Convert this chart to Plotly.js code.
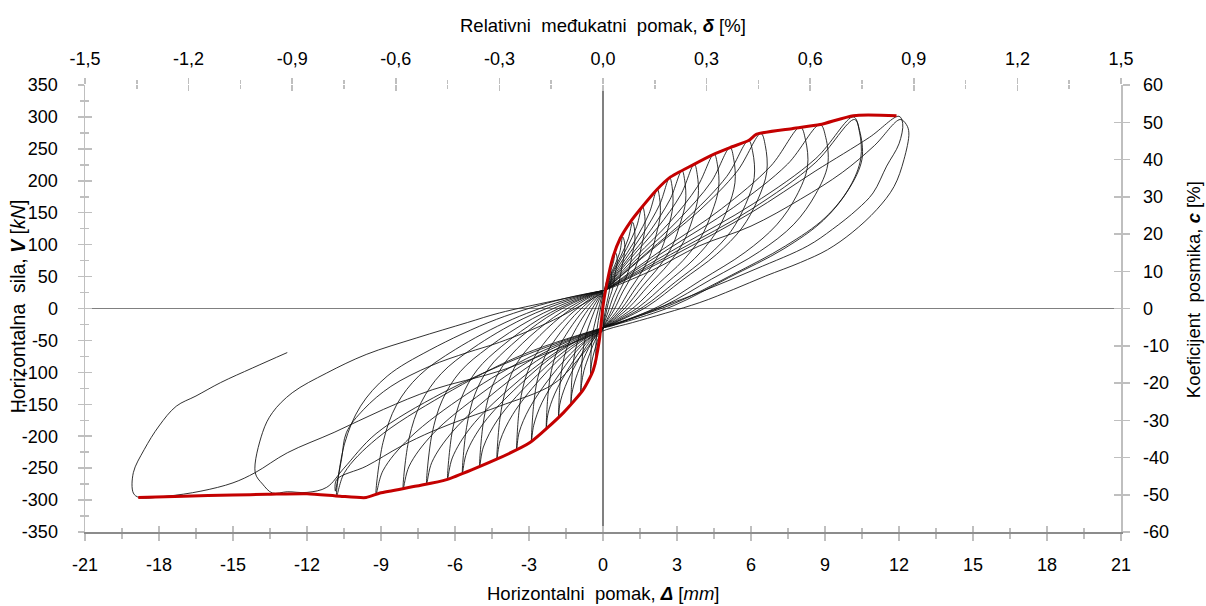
<!DOCTYPE html>
<html>
<head>
<meta charset="utf-8">
<script src="https://cdn.plot.ly/plotly-3.0.1.min.js"></script>
<style>html,body{margin:0;padding:0;background:#fff;}#chart{width:1206px;height:606px;}</style>
</head>
<body>
<div id="chart"></div>
<script>
// Tick labels
const xTickVals = [-21,-18,-15,-12,-9,-6,-3,0,3,6,9,12,15,18,21];
const xTickText = ['-21','-18','-15','-12','-9','-6','-3','0','3','6','9','12','15','18','21'];
const dTickVals = [-1.5,-1.2,-0.9,-0.6,-0.3,0,0.3,0.6,0.9,1.2,1.5];
const dTickText = ['-1,5','-1,2','-0,9','-0,6','-0,3','0,0','0,3','0,6','0,9','1,2','1,5'];
const yTickVals = [-350,-300,-250,-200,-150,-100,-50,0,50,100,150,200,250,300,350];
const yTickText = ['-350','-300','-250','-200','-150','-100','-50','0','50','100','150','200','250','300','350'];
const cTickVals = [-60,-50,-40,-30,-20,-10,0,10,20,30,40,50,60];
const cTickText = ['-60','-50','-40','-30','-20','-10','0','10','20','30','40','50','60'];

// Hysteresis cycles (displacement mm, force kN)
const c00x = [0.03,0.09,0.18,0.26,0.3,0.33,0.34,0.29,0.26,0.21,0.15,0.08,0.03,0.01,-0.09,-0.18,-0.26,-0.29,-0.3,-0.29,-0.27,-0.24,-0.19,-0.12,-0.05,0];
const c00y = [20,30,40,52,62,57,48,38,28,18,8,-6,-20,-28,-38,-50,-67,-79,-88,-63,-46,-32,-19,-4,12,24];
const c01x = [0.05,0.15,0.3,0.43,0.5,0.56,0.57,0.49,0.44,0.36,0.25,0.14,0.04,0.02,-0.15,-0.3,-0.43,-0.49,-0.5,-0.49,-0.46,-0.41,-0.33,-0.2,-0.08,0];
const c01y = [28,43,58,74,88,82,69,55,40,27,14,-4,-22,-30,-42,-60,-79,-94,-104,-75,-54,-37,-23,-3,15,28];
const c02x = [0.05,0.24,0.48,0.68,0.8,0.87,0.87,0.78,0.7,0.58,0.4,0.22,0.06,0.02,-0.27,-0.54,-0.77,-0.87,-0.9,-0.87,-0.82,-0.73,-0.59,-0.36,-0.14,0];
const c02y = [28,48,68,88,112,104,86,68,50,33,17,-4,-22,-30,-46,-71,-97,-118,-132,-95,-69,-48,-29,-5,15,28];
const c03x = [0.05,0.36,0.72,1.02,1.2,1.27,1.29,1.18,1.06,0.86,0.6,0.34,0.1,0.02,-0.39,-0.78,-1.1,-1.26,-1.3,-1.26,-1.18,-1.05,-0.85,-0.52,-0.2,0];
const c03y = [28,55,82,109,135,126,105,84,62,42,22,-3,-22,-30,-49,-78,-109,-133,-150,-108,-78,-54,-33,-6,15,28];
const c04x = [0.05,0.48,0.96,1.36,1.6,1.68,1.7,1.57,1.41,1.15,0.8,0.45,0.13,0.02,-0.54,-1.08,-1.53,-1.75,-1.8,-1.75,-1.64,-1.46,-1.17,-0.72,-0.27,0];
const c04y = [28,61,94,128,160,149,125,99,74,50,26,-2,-22,-30,-52,-86,-122,-150,-170,-122,-88,-61,-37,-8,15,28];
const c05x = [0.05,0.66,1.32,1.87,2.2,2.29,2.32,2.16,1.94,1.58,1.1,0.62,0.18,0.02,-0.69,-1.38,-1.96,-2.23,-2.3,-2.23,-2.09,-1.86,-1.5,-0.92,-0.35,0];
const c05y = [28,68,108,149,187,174,146,116,86,58,30,-1,-22,-30,-55,-93,-134,-165,-187,-135,-97,-67,-41,-9,15,28];
const c06x = [0.05,0.81,1.62,2.3,2.7,2.8,2.83,2.65,2.38,1.94,1.35,0.76,0.22,0.02,-0.87,-1.74,-2.47,-2.81,-2.9,-2.81,-2.64,-2.35,-1.89,-1.16,-0.44,0];
const c06y = [28,72,117,163,205,191,160,127,94,64,33,0,-22,-30,-58,-101,-147,-183,-208,-150,-108,-75,-46,-11,15,28];
const c07x = [0.05,0.96,1.92,2.72,3.2,3.31,3.35,3.14,2.82,2.3,1.6,0.9,0.26,0.02,-1.05,-2.1,-2.98,-3.4,-3.5,-3.4,-3.19,-2.84,-2.28,-1.4,-0.53,0];
const c07y = [28,75,122,171,216,201,168,134,99,67,35,1,-22,-30,-61,-106,-156,-194,-221,-159,-115,-80,-49,-12,15,28];
const c08x = [0.05,1.11,2.22,3.15,3.7,3.82,3.86,3.63,3.26,2.66,1.85,1.04,0.3,0.02,-1.29,-2.58,-3.66,-4.17,-4.3,-4.17,-3.91,-3.48,-2.8,-1.72,-0.65,0];
const c08y = [28,78,127,178,226,210,176,140,104,70,36,1,-22,-30,-63,-112,-166,-207,-236,-170,-123,-85,-52,-13,15,28];
const c09x = [0.05,1.35,2.7,3.83,4.5,4.64,4.69,4.41,3.96,3.24,2.25,1.26,0.36,0.02,-1.5,-3.0,-4.25,-4.85,-5.0,-4.85,-4.55,-4.05,-3.25,-2.0,-0.75,0];
const c09y = [28,82,135,191,242,225,189,150,111,75,39,2,-22,-30,-65,-117,-173,-217,-247,-178,-128,-89,-54,-14,15,28];
const c10x = [0.05,1.55,3.09,4.38,5.15,5.3,5.35,5.05,4.53,3.71,2.58,1.44,0.41,0.02,-1.71,-3.42,-4.85,-5.53,-5.7,-5.53,-5.19,-4.62,-3.71,-2.28,-0.86,0];
const c10y = [28,84,140,198,252,234,197,156,116,78,40,2,-22,-30,-66,-121,-180,-226,-258,-186,-134,-93,-57,-14,15,28];
const c11x = [0.05,1.77,3.54,5.02,5.9,6.07,6.13,5.78,5.19,4.25,2.95,1.65,0.47,0.02,-1.89,-3.78,-5.36,-6.11,-6.3,-6.11,-5.73,-5.1,-4.1,-2.52,-0.95,0];
const c11y = [28,87,146,207,263,245,205,163,121,82,42,3,-22,-30,-68,-125,-186,-234,-267,-192,-139,-96,-59,-15,15,28];
const c12x = [0.05,1.92,3.84,5.44,6.4,6.58,6.64,6.27,5.63,4.61,3.2,1.79,0.51,0.02,-2.15,-4.29,-6.08,-6.94,-7.15,-6.94,-6.51,-5.79,-4.65,-2.86,-1.07,0];
const c12y = [28,90,151,215,274,255,214,170,126,85,44,3,-22,-30,-69,-128,-192,-241,-275,-198,-143,-99,-61,-16,15,28];
const c13x = [0.05,2.4,4.8,6.8,8.0,8.21,8.29,7.84,7.04,5.76,4.0,2.24,0.64,0.02,-2.43,-4.86,-6.89,-7.86,-8.1,-7.86,-7.37,-6.56,-5.27,-3.24,-1.22,0];
const c13y = [28,92,156,223,284,264,222,176,131,88,45,3,-22,-30,-70,-131,-196,-247,-282,-203,-147,-102,-62,-16,15,28];
const c14x = [0.05,2.64,5.28,7.48,8.8,9.03,9.11,8.62,7.74,6.34,4.4,2.46,0.7,0.02,-2.76,-5.52,-7.82,-8.92,-9.2,-8.92,-8.37,-7.45,-5.98,-3.68,-1.38,0];
const c14y = [28,93,158,226,288,268,225,179,132,89,46,4,-22,-30,-72,-134,-202,-254,-291,-210,-151,-105,-64,-17,15,28];
const c15x = [0.05,3.05,6.09,8.63,10.15,10.4,10.5,9.95,8.93,7.31,5.08,2.84,0.81,0.02,-3.24,-6.48,-9.18,-10.48,-10.8,-10.48,-9.83,-8.75,-7.02,-4.32,-1.62,0];
const c15y = [28,96,164,235,300,279,234,186,138,93,48,4,-22,-30,-72,-136,-204,-257,-294,-212,-153,-106,-65,-17,15,28];
const c16x = [0.05,3,6,8.6,10.2,10.4,10.45,10.0,9.0,7.4,5.2,2.9,0.8,0.02,-0.8,-2,-4.2,-5.5,-6.9,-8.2,-9.6,-10.8,-10.85,-10.6,-10.4,-9.7,-8.6,-7,-5.5,-4.2,-2,0];
const c16y = [28,90,155,228,296,276,235,190,142,98,52,8,-20,-30,-70,-118,-153,-171,-192,-216,-247,-268,-286,-236,-194,-158,-122,-90,-69,-53,-18,25];
const c17x = [0.05,3,6,8.6,10.8,12.0,12.15,12.0,11.5,10.95,10.3,9.3,8.3,6.2,3.9,1.5,0.3,0.02,-3.2,-6.5,-9.2,-10.5,-11.2,-12,-12.8,-13.4,-13.8,-14.1,-13.8,-13.4,-12.6,-11.2,-9.6,-7.55,-5.5,-4.2,-2,0];
const c17y = [28,86,150,215,268,301,290,258,223,181,155,124,98,62,25,-10,-28,-30,-74,-132,-196,-250,-280,-288,-287,-289,-275,-257,-194,-163,-132,-101,-72,-46,-22,-7,12,28];
const c18x = [0.05,2,3.9,6,8,9.7,11,12.05,12.3,12.4,12.2,11.8,11.1,10.1,9.1,8,6.6,5.3,3.9,1.2,0.15,-1.5,-4.2,-6.9,-8.9,-10.9,-12.8,-14.1,-15,-16.3,-17.7,-18.8,-19.04,-19.04,-18.6,-18,-17.3,-16.5,-15.5,-14.2,-12.8];
const c18y = [28,60,98,129,171,213,255,296,288,275,233,191,155,119,92,72,51,30,9,-22,-33,-58,-98,-127,-158,-194,-226,-257,-273,-286,-294,-296,-289,-257,-221,-184,-153,-137,-116,-93,-69];

// Envelope (red)
const envX = [-18.84,-17,-15,-13.6,-12,-10.66,-9.6,-9.04,-7.55,-6.34,-4.31,-2.96,-1.6,-0.8,-0.4,-0.15,0,0.15,0.4,0.7,1.1,1.5,2.18,2.7,3.65,4.46,5.15,5.9,6.23,7.7,8.8,10.15,11.9];
const envY = [-296,-294,-292,-291,-290,-294,-296,-289,-278,-268,-236,-210,-163,-127,-97,-50,4,38,80,110,135,155,186,205,225,241,252,263,273,282,288,302,302];

const cycles = [[c00x,c00y],[c01x,c01y],[c02x,c02y],[c03x,c03y],[c04x,c04y],[c05x,c05y],[c06x,c06y],[c07x,c07y],[c08x,c08y],[c09x,c09y],[c10x,c10y],[c11x,c11y],[c12x,c12y],[c13x,c13y],[c14x,c14y],[c15x,c15y],[c16x,c16y],[c17x,c17y],[c18x,c18y]];

const traces = cycles.map(c => ({
  type:'scatter', mode:'lines', x:c[0], y:c[1],
  line:{color:'rgba(15,15,15,0.9)', width:0.95, shape:'spline', smoothing:1},
  hoverinfo:'skip', showlegend:false
}));
traces.push({type:'scatter', mode:'lines', x:envX, y:envY,
  line:{color:'rgb(196,0,0)', width:3, shape:'spline', smoothing:0.6},
  hoverinfo:'skip', showlegend:false});
// dummy traces to attach secondary axes
traces.push({type:'scatter', mode:'lines', x:[null], y:[null], xaxis:'x2', yaxis:'y2', showlegend:false, hoverinfo:'skip'});
traces.push({type:'scatter', mode:'lines', x:[null], y:[null], xaxis:'x3', yaxis:'y3', showlegend:false, hoverinfo:'skip'});
traces.push({type:'scatter', mode:'lines', x:[null], y:[null], xaxis:'x4', yaxis:'y4', showlegend:false, hoverinfo:'skip'});

const tickGray = '#bfbfbf';
const fnt = {family:'"Liberation Sans", Arial, sans-serif', size:18, color:'#000'};
const titleFnt = {family:'"Liberation Sans", Arial, sans-serif', size:18.5, color:'#000'};
const sideFnt = {family:'"Liberation Sans", Arial, sans-serif', size:19.5, color:'#000'};

const layout = {
  width:1206, height:606,
  margin:{l:85, r:85, t:85, b:74, pad:0},
  paper_bgcolor:'#fff', plot_bgcolor:'#fff',
  showlegend:false,
  font:fnt,
  xaxis:{range:[-21,21], tickmode:'array', tickvals:xTickVals, ticktext:xTickText,
    ticks:'outside', ticklen:7, tickwidth:1.5, tickcolor:tickGray, tickfont:fnt, ticklabelstandoff:9,
    minor:{tickmode:'linear', tick0:-21, dtick:1.5, ticks:'outside', ticklen:5, tickwidth:1.5, tickcolor:tickGray},
    showline:true, linecolor:'#8c8c8c', linewidth:1.5, showgrid:false,
    zeroline:true, zerolinecolor:'#808080', zerolinewidth:1.5, anchor:'y'},
  xaxis3:{range:[-21,21], overlaying:'x', anchor:'y', side:'bottom', tickmode:'array', tickvals:xTickVals,
    ticks:'inside', ticklen:6, tickwidth:1.5, tickcolor:tickGray, showticklabels:false,
    minor:{tickmode:'linear', tick0:-21, dtick:1.5, ticks:'inside', ticklen:4, tickwidth:1.5, tickcolor:tickGray},
    showline:false, showgrid:false, zeroline:false},
  xaxis2:{range:[-1.5,1.5], overlaying:'x', anchor:'y', side:'top', tickmode:'array', tickvals:dTickVals, ticktext:dTickText,
    ticks:'outside', ticklen:6, tickwidth:1.5, tickcolor:tickGray, tickfont:fnt, ticklabelstandoff:6,
    minor:{tickmode:'linear', tick0:-1.5, dtick:0.15, ticks:'outside', ticklen:4, tickwidth:1.5, tickcolor:tickGray},
    showline:false, showgrid:false, zeroline:false},
  xaxis4:{range:[-1.5,1.5], overlaying:'x', anchor:'y', side:'top', tickmode:'array', tickvals:dTickVals,
    ticks:'inside', ticklen:6, tickwidth:1.5, tickcolor:tickGray, showticklabels:false,
    minor:{tickmode:'linear', tick0:-1.5, dtick:0.15, ticks:'inside', ticklen:4, tickwidth:1.5, tickcolor:tickGray},
    showline:false, showgrid:false, zeroline:false},
  yaxis:{range:[-350,350], tickmode:'array', tickvals:yTickVals, ticktext:yTickText,
    ticks:'outside', ticklen:6, tickwidth:1.5, tickcolor:tickGray, tickfont:fnt, ticklabelstandoff:16,
    minor:{tickmode:'linear', tick0:-350, dtick:25, ticks:'outside', ticklen:4, tickwidth:1.5, tickcolor:tickGray},
    showline:true, linecolor:tickGray, linewidth:1.5, showgrid:false,
    zeroline:true, zerolinecolor:'#808080', zerolinewidth:1.5, anchor:'x'},
  yaxis3:{range:[-350,350], overlaying:'y', anchor:'x', side:'left', tickmode:'array', tickvals:yTickVals,
    ticks:'inside', ticklen:7, tickwidth:1.5, tickcolor:tickGray, showticklabels:false,
    minor:{tickmode:'linear', tick0:-350, dtick:25, ticks:'inside', ticklen:4, tickwidth:1.5, tickcolor:tickGray},
    showline:false, showgrid:false, zeroline:false},
  yaxis2:{range:[-60,60], overlaying:'y', anchor:'x', side:'right', tickmode:'array', tickvals:cTickVals, ticktext:cTickText,
    ticks:'outside', ticklen:7, tickwidth:1.5, tickcolor:tickGray, tickfont:fnt, ticklabelstandoff:10,
    showline:true, linecolor:tickGray, linewidth:1.5, showgrid:false, zeroline:false},
  yaxis4:{range:[-60,60], overlaying:'y', anchor:'x', side:'right', tickmode:'array', tickvals:cTickVals,
    ticks:'inside', ticklen:7, tickwidth:1.5, tickcolor:tickGray, showticklabels:false,
    showline:false, showgrid:false, zeroline:false},
  annotations:[
    {text:'Horizontalni  pomak, <b><i>Δ</i></b> [<i>mm</i>]', xref:'paper', yref:'paper', x:0.5, y:-0.1365, xanchor:'center', yanchor:'middle', showarrow:false, font:titleFnt},
    {text:'Relativni  međukatni  pomak, <b><i>δ</i></b> [%]', xref:'paper', yref:'paper', x:0.5, y:1.134, xanchor:'center', yanchor:'middle', showarrow:false, font:titleFnt},
    {text:'Horizontalna  sila, <b><i>V</i></b> [<i>kN</i>]', xref:'paper', yref:'paper', x:-0.0647, y:0.505, xanchor:'center', yanchor:'middle', textangle:-90, showarrow:false, font:sideFnt},
    {text:'Koeficijent  posmika, <b><i>c</i></b> [%]', xref:'paper', yref:'paper', x:1.0695, y:0.541, xanchor:'center', yanchor:'middle', textangle:-90, showarrow:false, font:titleFnt}
  ]
};

Plotly.newPlot('chart', traces, layout, {staticPlot:true, displayModeBar:false});
</script>
</body>
</html>
